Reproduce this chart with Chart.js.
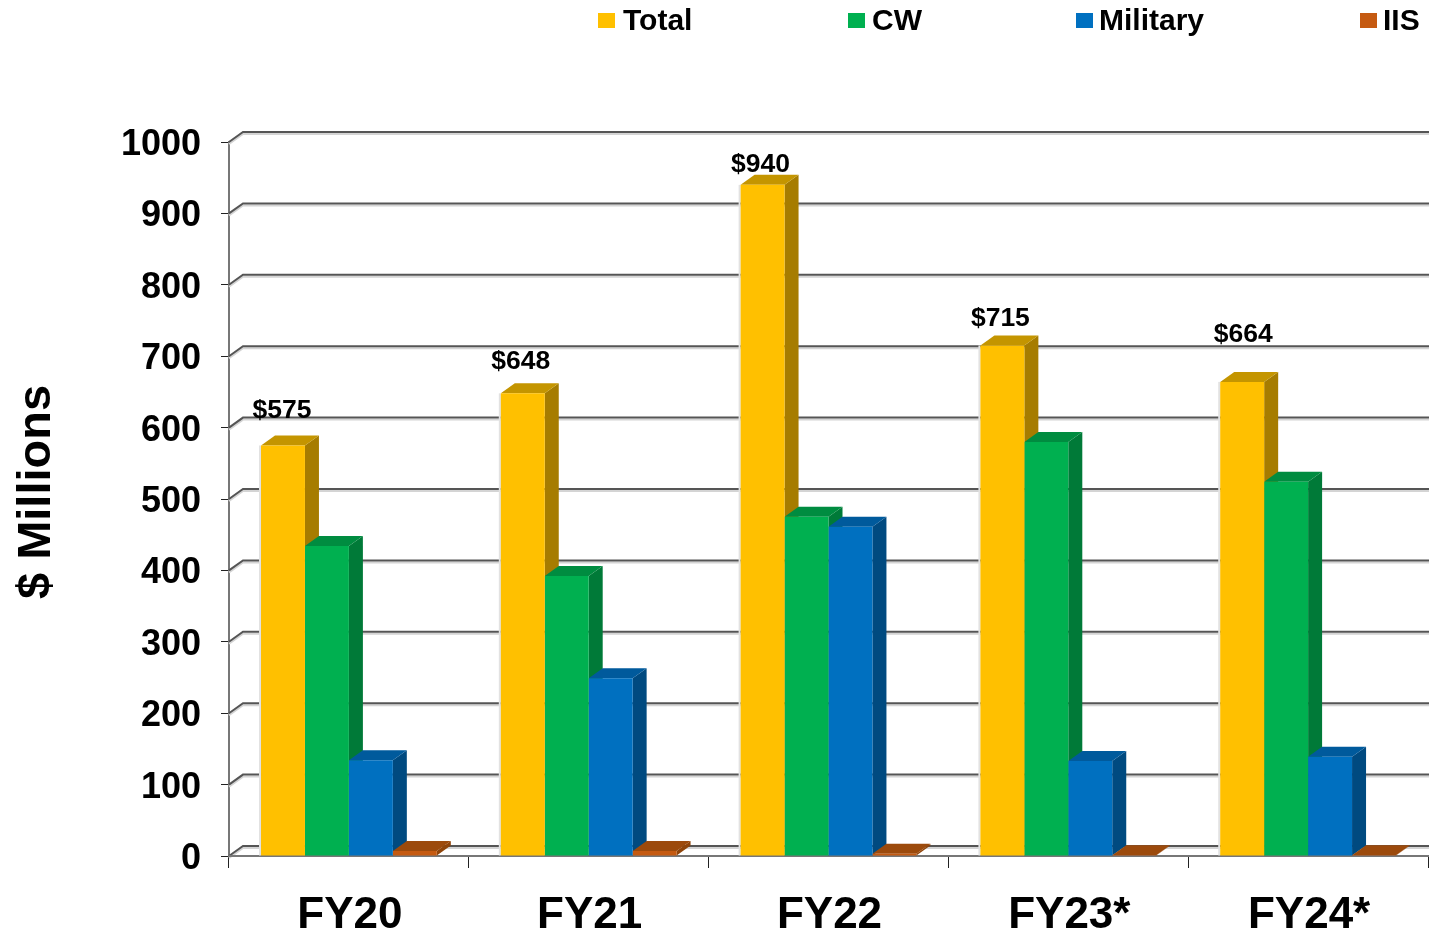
<!DOCTYPE html>
<html>
<head>
<meta charset="utf-8">
<title>$ Millions by fiscal year</title>
<script src="https://cdn.jsdelivr.net/npm/chart.js@4"></script>
<style>
html, body { margin: 0; padding: 0; background: #fff; overflow: hidden; }
canvas { display: block; }
</style>
</head>
<body>
<canvas id="chart" width="1429" height="934"></canvas>
<script>
// values
var years = ['FY20', 'FY21', 'FY22', 'FY23*', 'FY24*'];
var total = [575, 648, 940, 715, 664];
var cw = [434, 392, 475, 580, 524];
var military = [134, 249, 461, 133, 139];
var iis = [7, 7, 3, 1, 1];
var totalLabels = ['$575', '$648', '$940', '$715', '$664'];

var FONT = '"Liberation Sans", Arial, sans-serif';
var DEPTH_X = 14, DEPTH_Y = 10;
// side and top shades per series
var shades = [
    { side: '#a67c00', top: '#c49500' },
    { side: '#007a38', top: '#008c40' },
    { side: '#004a80', top: '#005a9c' },
    { side: '#8f4409', top: '#9c4a0c' }
];
// hand placed in the original, so they do not follow the bars exactly
var labelLift = [35, 32, 20, 27, 47];
var labelShift = [-1, -2, -2, -2, 1];

function poly(ctx, pts, color) {
    ctx.fillStyle = color;
    ctx.beginPath();
    ctx.moveTo(pts[0][0], pts[0][1]);
    for (var i = 1; i < pts.length; i++) ctx.lineTo(pts[i][0], pts[i][1]);
    ctx.closePath();
    ctx.fill();
}

var backWall = {
    id: 'backWall',
    beforeDatasetsDraw: function (chart) {
        var ctx = chart.ctx, y = chart.scales.y, area = chart.chartArea;
        ctx.save();
        y.ticks.forEach(function (t) {
            var py = y.getPixelForValue(t.value);
            [['#d4d4d4', 2], ['#555555', 0]].forEach(function (s) {
                ctx.strokeStyle = s[0];
                ctx.lineWidth = 2;
                ctx.beginPath();
                ctx.moveTo(area.left, py + s[1]);
                ctx.lineTo(area.left + DEPTH_X, py - DEPTH_Y + s[1]);
                ctx.lineTo(chart.width, py - DEPTH_Y + s[1]);
                ctx.stroke();
            });
        });
        ctx.strokeStyle = '#777777';
        ctx.lineWidth = 2;
        ctx.beginPath();
        ctx.moveTo(area.left, area.bottom);
        ctx.lineTo(chart.width, area.bottom);
        ctx.stroke();
        ctx.restore();
    }
};

// the 3d look: side and top faces hung on each real bar element
var barFaces = {
    id: 'barFaces',
    beforeDatasetsDraw: function (chart) {
        var ctx = chart.ctx;
        ctx.save();
        chart.data.datasets.forEach(function (ds, di) {
            chart.getDatasetMeta(di).data.forEach(function (bar) {
                var r = bar.x + bar.width / 2, l = bar.x - bar.width / 2;
                if (di === 0) {
                    // soft light edge on the left of the first bar
                    ctx.fillStyle = '#e2e2e2';
                    ctx.fillRect(l - 2, bar.y, 2, bar.base - bar.y);
                }
                poly(ctx, [[r, bar.base], [r + DEPTH_X, bar.base - DEPTH_Y], [r + DEPTH_X, bar.y - DEPTH_Y], [r, bar.y]], shades[di].side);
                poly(ctx, [[l, bar.y], [l + DEPTH_X, bar.y - DEPTH_Y], [r + DEPTH_X, bar.y - DEPTH_Y], [r, bar.y]], shades[di].top);
            });
        });
        ctx.restore();
    },
    afterDatasetsDraw: function (chart) {
        var ctx = chart.ctx;
        ctx.save();
        ctx.fillStyle = '#000';
        ctx.font = 'bold 26.5px ' + FONT;
        ctx.textAlign = 'center';
        ctx.textBaseline = 'middle';
        chart.getDatasetMeta(0).data.forEach(function (bar, i) {
            ctx.fillText(totalLabels[i], bar.x + labelShift[i], bar.y - labelLift[i]);
        });
        ctx.restore();
    }
};

// legend and axis title sit at fixed spots in the original
var legendSpots = [[598, 623], [848, 872], [1076, 1099], [1360, 1383]];
var extras = {
    id: 'extras',
    afterDraw: function (chart) {
        var ctx = chart.ctx;
        ctx.save();
        ctx.textBaseline = 'middle';
        ctx.font = 'bold 30px ' + FONT;
        chart.data.datasets.forEach(function (ds, i) {
            ctx.fillStyle = ds.backgroundColor;
            ctx.fillRect(legendSpots[i][0], 13, 17, 15);
            ctx.fillStyle = '#000';
            ctx.fillText(ds.label, legendSpots[i][1], 22);
        });
        ctx.translate(37.5, 492);
        ctx.rotate(-Math.PI / 2);
        ctx.textAlign = 'center';
        ctx.font = 'bold 47px ' + FONT;
        ctx.fillText('$ Millions', 0, 0);
        ctx.restore();
    }
};

new Chart(document.getElementById('chart'), {
    type: 'bar',
    data: {
        labels: years,
        datasets: [
            { label: 'Total', data: total, backgroundColor: '#ffc000' },
            { label: 'CW', data: cw, backgroundColor: '#00b050' },
            { label: 'Military', data: military, backgroundColor: '#0070c0' },
            { label: 'IIS', data: iis, backgroundColor: '#c55a11' }
        ]
    },
    plugins: [backWall, barFaces, extras],
    options: {
        responsive: false,
        animation: false,
        layout: { padding: { top: 142, right: 1, left: 0, bottom: 0 } },
        datasets: { bar: { categoryPercentage: 0.733, barPercentage: 1, borderWidth: 0 } },
        plugins: { legend: { display: false }, tooltip: { enabled: false } },
        scales: {
            x: {
                afterFit: function (scale) { scale.height = 78; },
                border: { color: '#777777', width: 2 },
                grid: { drawOnChartArea: false, tickLength: 12, tickColor: '#222222', tickWidth: 1 },
                ticks: { color: '#000', padding: 21, maxRotation: 0, labelOffset: 1, font: { family: FONT, size: 44, weight: 'bold' } }
            },
            y: {
                min: 0,
                max: 1000,
                afterFit: function (scale) { scale.width = 229; },
                border: { color: '#777777', width: 2 },
                grid: { drawOnChartArea: false, tickLength: 8, tickColor: '#222222', tickWidth: 1 },
                ticks: {
                    stepSize: 100,
                    color: '#000',
                    padding: 20,
                    labelOffset: 3,
                    autoSkip: false,
                    callback: function (value) { return String(value); },
                    font: { family: FONT, size: 36, weight: 'bold' }
                }
            }
        }
    }
});
</script>
</body>
</html>
